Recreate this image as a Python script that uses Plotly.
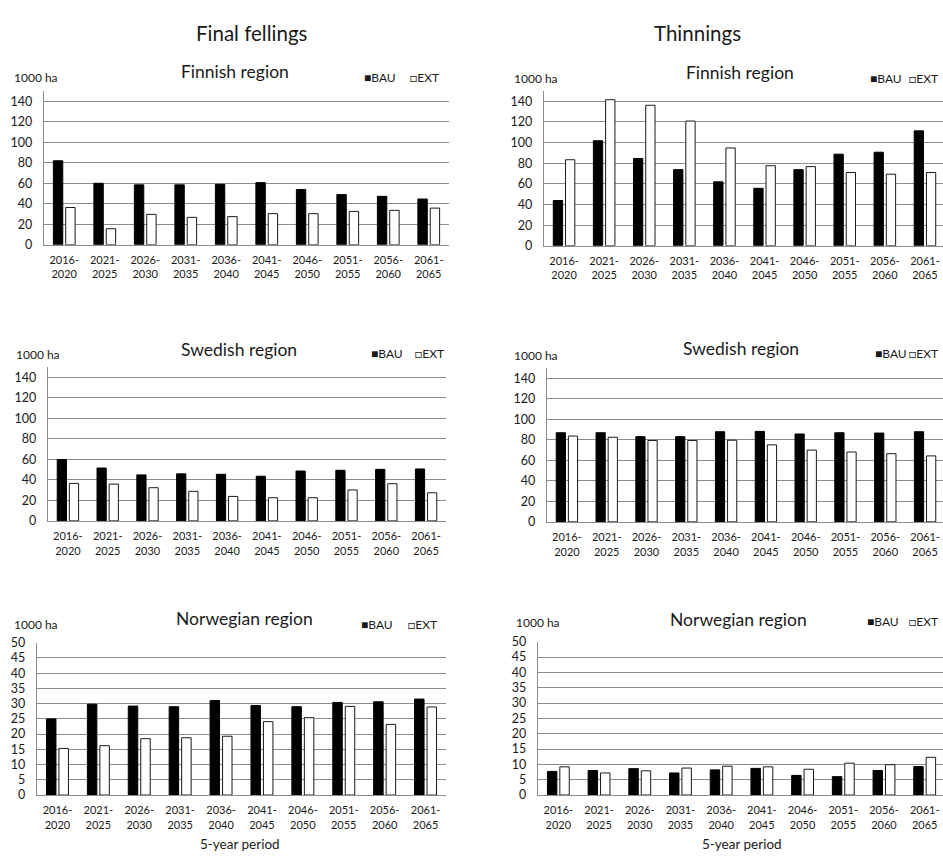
import plotly.graph_objects as go

periods = ["2016-<br>2020", "2021-<br>2025", "2026-<br>2030", "2031-<br>2035", "2036-<br>2040",
           "2041-<br>2045", "2046-<br>2050", "2051-<br>2055", "2056-<br>2060", "2061-<br>2065"]

# Final fellings (1000 ha)
ff_fin_bau = [82, 60, 58.5, 58.5, 59, 60.7, 54, 49, 47.3, 44.7]
ff_fin_ext = [36.4, 15.7, 29.7, 26.8, 27.5, 30.4, 30.4, 32.6, 33.6, 35.8]
ff_swe_bau = [59.9, 51.6, 44.9, 45.9, 45.5, 43.6, 48.7, 49.4, 50.3, 50.7]
ff_swe_ext = [36.6, 35.9, 32.4, 28.9, 23.9, 22.6, 22.6, 30.2, 36.3, 27.4]
ff_nor_bau = [25, 29.8, 29.2, 29, 31, 29.4, 29, 30.4, 30.6, 31.5]
ff_nor_ext = [15.3, 16.2, 18.5, 18.8, 19.3, 24.1, 25.4, 29.1, 23.2, 28.9]

# Thinnings (1000 ha)
th_fin_bau = [43.9, 101.8, 84.6, 73.8, 62, 55.7, 73.8, 88.8, 90.7, 111.4]
th_fin_ext = [83.4, 141.6, 136.2, 120.9, 94.8, 77.6, 76.7, 71, 69.4, 71]
th_swe_bau = [87, 87, 83.2, 83.2, 88, 88.3, 85.8, 87, 86.7, 88]
th_swe_ext = [83.8, 82.6, 79.4, 79.4, 79.7, 75.2, 70.1, 68.2, 66.6, 64.4]
th_nor_bau = [7.7, 8, 8.6, 7.2, 8.2, 8.7, 6.4, 6, 8, 9.3]
th_nor_ext = [9.2, 7.2, 7.9, 8.8, 9.4, 9.2, 8.4, 10.4, 9.9, 12.3]

column_titles = ["Final fellings", "Thinnings"]
region_titles = ["Finnish region", "Swedish region", "Norwegian region"]
series_names = ["BAU", "EXT"]
unit_label = "1000 ha"
x_title = "5-year period"

W, H = 943, 860
GRID = "#8c8c8c"
TXT = "#1a1a1a"
FONT = "Lato"


def px(x):
    return x / W


def py(y):
    return 1 - y / H


panels = [
    dict(bau=ff_fin_bau, ext=ff_fin_ext, x0=44, x1=449, yb=241, yt=84.6, ymax=150, ticks=list(range(0, 141, 20)),
         xend=9.5, title=region_titles[0], tx=235, ty=65, ux=12, uy=71, lx=362, lx2=408, ly=71, right=False),
    dict(bau=th_fin_bau, ext=th_fin_ext, x0=544, x1=943, yb=242, yt=84.5, ymax=150, ticks=list(range(0, 141, 20)),
         xend=9.45, title=region_titles[0], tx=740, ty=66, ux=512, uy=72, lx=868, lx2=940, ly=72, right=True),
    dict(bau=ff_swe_bau, ext=ff_swe_ext, x0=48, x1=446, yb=522, yt=365.6, ymax=150, ticks=list(range(0, 141, 20)),
         xend=9.5, title=region_titles[1], tx=239, ty=348, ux=14, uy=353, lx=369, lx2=413, ly=352, right=False),
    dict(bau=th_swe_bau, ext=th_swe_ext, x0=547, x1=943, yb=523, yt=366.6, ymax=150, ticks=list(range(0, 141, 20)),
         xend=9.45, title=region_titles[1], tx=741, ty=347, ux=512, uy=354, lx=873, lx2=940, ly=352, right=True),
    dict(bau=ff_nor_bau, ext=ff_nor_ext, x0=37, x1=446, yb=801, yt=646, ymax=50, ticks=list(range(0, 51, 5)),
         xend=9.5, title=region_titles[2], tx=244, ty=621, ux=12, uy=627, lx=359, lx2=406, ly=627, right=False),
    dict(bau=th_nor_bau, ext=th_nor_ext, x0=538, x1=943, yb=801, yt=645, ymax=50, ticks=list(range(0, 51, 5)),
         xend=9.45, title=region_titles[2], tx=738, ty=622, ux=514, uy=625, lx=865, lx2=940, ly=624, right=True),
]

fig = go.Figure()
annotations = []
layout = dict(
    width=W, height=H, margin=dict(l=0, r=0, t=0, b=0),
    paper_bgcolor="white", plot_bgcolor="white",
    barmode="group", bargap=0.39, bargroupgap=0.24,
    showlegend=False,
    font=dict(family=FONT, color=TXT),
)


def ann(text, x, y, size, xanchor="center"):
    return dict(text=text, x=px(x), y=py(y), xref="paper", yref="paper",
                xanchor=xanchor, yanchor="middle", showarrow=False,
                font=dict(size=size, family=FONT, color=TXT))


for i, p in enumerate(panels, start=1):
    xa = "x" if i == 1 else f"x{i}"
    ya = "y" if i == 1 else f"y{i}"
    fig.add_trace(go.Bar(x=periods, y=p["bau"], name=series_names[0], xaxis=xa, yaxis=ya,
                         marker=dict(color="#000000", line=dict(color="#000000", width=1))))
    fig.add_trace(go.Bar(x=periods, y=p["ext"], name=series_names[1], xaxis=xa, yaxis=ya,
                         marker=dict(color="#ffffff", line=dict(color="#1a1a1a", width=1))))
    layout[f"xaxis{i}"] = dict(
        domain=[px(p["x0"]), px(p["x1"])], anchor=ya, type="category",
        range=[-0.5, p["xend"]], showgrid=False, showline=True, linecolor=GRID, linewidth=1.3,
        ticks="", tickfont=dict(size=11, family=FONT, color=TXT), ticklabelstandoff=5,
        fixedrange=True,
    )
    layout[f"yaxis{i}"] = dict(
        domain=[py(p["yb"]), py(p["yt"])], anchor=xa, range=[0, p["ymax"]],
        tickvals=p["ticks"],
        showgrid=True, gridcolor=GRID, gridwidth=1.3, showline=True, linecolor=GRID, linewidth=1.3,
        zeroline=False, ticks="", tickfont=dict(size=12.5, family=FONT, color=TXT),
        ticklabelstandoff=8, fixedrange=True,
    )
    annotations.append(ann(p["title"], p["tx"], p["ty"], 17.5))
    annotations.append(ann(unit_label, p["ux"], p["uy"], 12, "left"))
    annotations.append(ann("■" + series_names[0], p["lx"], p["ly"], 12, "left"))
    annotations.append(ann("□" + series_names[1], p["lx2"], p["ly"], 12,
                           "right" if p["right"] else "left"))

annotations.append(ann(column_titles[0], 252, 25, 20.5))
annotations.append(ann(column_titles[1], 697, 25, 20.5))
annotations.append(ann(x_title, 240, 851, 13.5))
annotations.append(ann(x_title, 742, 851, 13.5))

layout["annotations"] = annotations
fig.update_layout(**layout)
fig.write_html(
    "out.html",
    config={"displayModeBar": False},
    post_script="document.body.style.margin='0';document.body.style.padding='0';"
                "document.documentElement.style.overflow='hidden';",
)
